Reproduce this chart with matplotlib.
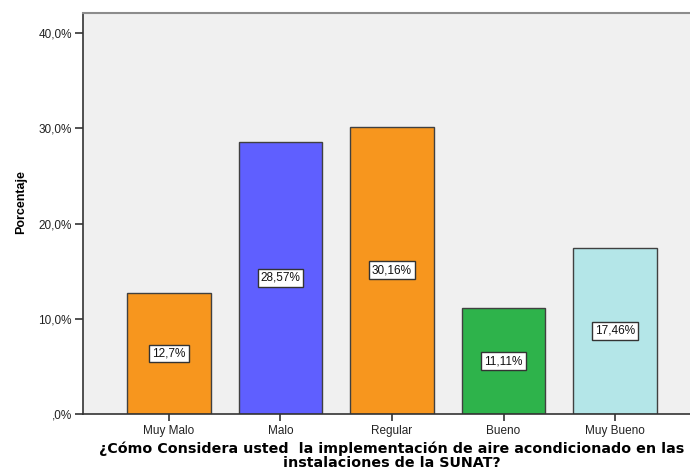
import matplotlib
matplotlib.use("Agg")
import matplotlib.pyplot as plt
from matplotlib.ticker import FuncFormatter

plt.rcParams['font.family'] = ['Liberation Sans', 'DejaVu Sans']

categories = ["Muy Malo", "Malo", "Regular", "Bueno", "Muy Bueno"]
percentages = [12.70, 28.57, 30.16, 11.11, 17.46]
value_labels = ["12,7%", "28,57%", "30,16%", "11,11%", "17,46%"]
bar_colors = ["#F7961E", "#5F5FFF", "#F7961E", "#2EB34B", "#B4E6E8"]
y_ticks = [0, 10, 20, 30, 40]

fig = plt.figure(figsize=(6.9, 4.69), dpi=100)
ax = fig.add_axes([83 / 690, 1 - 414 / 469, (701 - 83) / 690, (414 - 13) / 469])
ax.set_facecolor("#F0F0F0")

x = list(range(len(categories)))
bars = ax.bar(x, percentages, width=0.75, color=bar_colors,
              edgecolor="#404040", linewidth=1.0, zorder=2)

for xi, val, lab in zip(x, percentages, value_labels):
    ax.text(xi, val / 2, lab, ha="center", va="center", fontsize=8.5,
            color="#111111", zorder=3,
            bbox=dict(boxstyle="square,pad=0.25", facecolor="white",
                      edgecolor="#333333", linewidth=1.0))

ax.set_xlim(-0.77, 4.77)
ax.set_ylim(0, 42.1)
ax.set_xticks(x)
ax.set_xticklabels(categories, fontsize=8.5, color="#222222")
ax.set_yticks(y_ticks)

def pct_fmt(v, pos):
    s = f"{v:.1f}".replace(".", ",")
    if s.startswith("0,"):
        s = s[1:]
    return s + "%"

ax.yaxis.set_major_formatter(FuncFormatter(pct_fmt))
ax.tick_params(axis="y", labelsize=8.5, labelcolor="#222222", length=6,
               width=1.2, color="#333333", direction="out", pad=2)
ax.tick_params(axis="x", length=5, width=1.2, color="#333333",
               direction="out", pad=3)

for side in ["left", "bottom"]:
    ax.spines[side].set_color("#333333")
    ax.spines[side].set_linewidth(1.2)
ax.spines["top"].set_color("#8C8C8C")
ax.spines["top"].set_linewidth(1.5)
ax.spines["right"].set_visible(False)

ax.set_ylabel("Porcentaje", fontsize=9, fontweight="bold",
              family=["Liberation Sans Narrow", "Liberation Sans", "DejaVu Sans"])
ax.yaxis.set_label_coords((27 - 83) / 618, (414 - 202) / 401)
ax.set_xlabel("¿Cómo Considera usted  la implementación de aire acondicionado en las\ninstalaciones de la SUNAT?",
              fontsize=10.3, fontweight="bold", labelpad=3.5, linespacing=0.92,
              family=["DejaVu Sans"])

fig.savefig("out.png", dpi=100, facecolor="white")
